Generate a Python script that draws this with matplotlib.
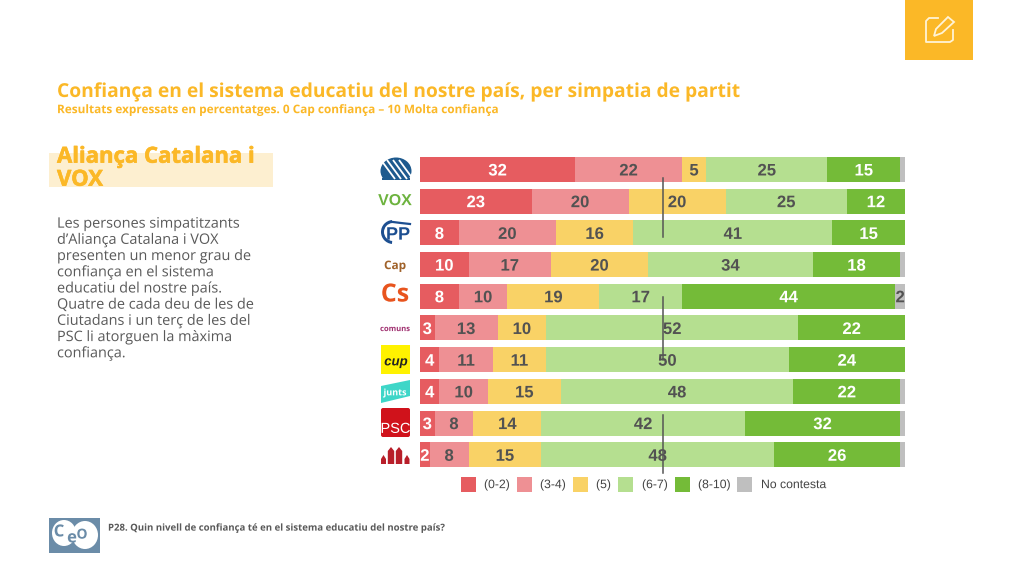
import matplotlib
matplotlib.use("Agg")
import numpy as np
import matplotlib.pyplot as plt
import matplotlib.patheffects as pe
from matplotlib.patches import Rectangle, Ellipse, FancyBboxPatch, Polygon, Wedge

plt.rcParams["text.hinting"] = "no_hinting"
# text goes through paths, otherwise Agg snaps glyphs by a pixel and digits look uneven
plt.rcParams["path.effects"] = [pe.Normal()]

# percentages per party, top to bottom
parties = ["AC", "VOX", "PP", "Cap", "Cs", "comuns", "CUP", "Junts", "PSC", "ERC"]
low = [32, 23, 8, 10, 8, 3, 4, 4, 3, 2]          # (0-2)
mid_low = [22, 20, 20, 17, 10, 13, 11, 10, 8, 8]  # (3-4)
five = [5, 20, 16, 20, 19, 10, 11, 15, 14, 15]    # (5)
mid_high = [25, 25, 41, 34, 17, 52, 50, 48, 42, 48]  # (6-7)
high = [15, 12, 15, 18, 44, 22, 24, 22, 32, 26]   # (8-10)
no_answer = [1, 0, 0, 1, 2, 0, 0, 1, 1, 1]        # No contesta
shown_na = [None, None, None, None, 2, None, None, None, None, None]

series = [low, mid_low, five, mid_high, high, no_answer]
names = ["(0-2)", "(3-4)", "(5)", "(6-7)", "(8-10)", "No contesta"]
colours = ["#E65C60", "#EE9094", "#F9D266", "#B5DF90", "#74BB38", "#BFBFBF"]
txt_cols = ["white", "#525252", "#525252", "#525252", "white", "#525252"]

AMBER = "#FBB827"
W, H = 1024, 576

body_lines = ["Les persones simpatitzants", "d’Aliança Catalana i VOX",
              "presenten un menor grau de", "confiança en el sistema",
              "educatiu del nostre país.", "Quatre de cada deu de les de",
              "Ciutadans i un terç de les del", "PSC li atorguen la màxima",
              "confiança."]

fig = plt.figure(figsize=(10.24, 5.76), dpi=100, facecolor="white")

# --- chart ---
ax = fig.add_axes([420 / W, 1 - 470.6 / H, 485 / W, 317 / H])
ypos = np.arange(len(parties))
left = np.zeros(len(parties))
for vals, name, col, tc in zip(series, names, colours, txt_cols):
    vals = np.array(vals)
    ax.barh(ypos, vals, left=left, height=0.79, color=col, linewidth=0)
    for i, v in enumerate(vals):
        if v == 0 or (name == "No contesta" and shown_na[i] is None):
            continue
        ax.text(left[i] + v / 2, i + 0.19, str(v), ha="center", va="baseline", color=tc,
                fontsize=12, fontweight="bold", family="Liberation Sans")
    left += vals
ax.set_xlim(0, 100)
ax.set_ylim(len(parties) - 0.5, -0.5)
ax.axis("off")

# --- overlay in pixel coords ---
ov = fig.add_axes([0, 0, 1, 1])
ov.set_xlim(0, W)
ov.set_ylim(H, 0)
ov.axis("off")
ov.patch.set_alpha(0)

# stray vertical rules over the bars
for y0, y1 in [(178, 237), (297, 360), (415, 473)]:
    ov.plot([662.5, 662.5], [y0, y1], color="#555555", lw=1.1)

# legend
leg_sq = [461, 517, 573, 618, 675, 737]
leg_tx = [484, 540, 596, 642, 698, 761]
for name, col, sx, tx in zip(names, colours, leg_sq, leg_tx):
    ov.add_patch(Rectangle((sx, 477), 15, 15, color=col, lw=0))
    ov.text(tx, 485, name, ha="left", va="center", fontsize=8.8, color="#444444",
            family="Liberation Sans")

# top-right icon
ov.add_patch(Rectangle((905, 0), 68, 60, color=AMBER, lw=0))
ov.plot([938, 929, 926, 926, 950, 953, 953], [18, 18, 21, 42, 42, 40, 30], color="#FFF3D6", lw=1.3)
ov.add_patch(Polygon([(934, 36), (936, 29), (948, 17), (954, 22), (942, 33)], closed=True,
                     fill=False, ec="#FFF3D6", lw=1.3))

# titles
ov.text(57, 92, "Confiança en el sistema educatiu del nostre país, per simpatia de partit",
        fontsize=13.85, fontweight="bold", color=AMBER, family="Open Sans", va="center")
ov.text(57, 110, "Resultats expressats en percentatges. 0 Cap confiança – 10 Molta confiança",
        fontsize=8.5, fontweight="bold", color=AMBER, family="Open Sans", va="center")

# side heading, a thin stroke gets it closer to the extra-bold weight
heavy = [pe.withStroke(linewidth=0.4, foreground=AMBER)]
ov.add_patch(Rectangle((49, 153), 224, 34, color="#FDEFD0", lw=0, zorder=1))
ov.text(57, 157, "Aliança Catalana i", fontsize=15.9, fontweight="bold", color=AMBER,
        family="Open Sans", va="center", zorder=2, path_effects=heavy)
ov.text(57, 180, "VOX", fontsize=15.9, fontweight="bold", color=AMBER,
        family="Open Sans", va="center", zorder=2, path_effects=heavy)

# side body text
for i, line in enumerate(body_lines):
    ov.text(57, 224 + i * 16.2, line, fontsize=10.4, color="#595959", family="Open Sans", va="center")

# footer
ov.add_patch(Rectangle((49, 518), 51, 35, color="#6B8CA8", lw=0))
ov.add_patch(Ellipse((64, 533), 24, 26, color="white", lw=0))
ov.add_patch(Ellipse((85, 535), 26, 28, color="white", lw=0))
ov.text(59, 532, "C", fontsize=12, fontweight="bold", color="#6B8CA8", family="Open Sans", ha="center", va="center")
ov.text(72, 538, "e", fontsize=12, fontweight="bold", color="#6B8CA8", family="Open Sans", ha="center", va="center")
ov.text(82, 535, "O", fontsize=10, fontweight="bold", color="#6B8CA8", family="Open Sans", ha="center", va="center")
ov.text(108, 528, "P28. Quin nivell de confiança té en el sistema educatiu del nostre país?",
        fontsize=6.9, fontweight="bold", color="#595959", family="Open Sans", va="center")

# --- party logos, rough shapes and real text ---
# Aliança Catalana dome
ov.add_patch(Ellipse((396, 171), 31, 27, color="#1E5A8E", lw=0))
for sx in [381, 387, 393, 399]:
    ov.plot([sx, sx + 14], [160, 179], color="white", lw=1.3, solid_capstyle="butt")
ov.add_patch(Rectangle((378, 180), 36, 6, color="white", lw=0))
ov.add_patch(Rectangle((382, 178), 28, 2, color="#1E5A8E", lw=0))

ov.text(395, 201, "VOX", fontsize=11.5, color="#6DB33F", fontweight="bold",
        family="Liberation Sans", ha="center", va="center")
ov.text(398, 235, "PP", fontsize=13, color="#1D4F91", fontweight="bold",
        family="Liberation Sans", ha="center", va="center")
ov.add_patch(Wedge((393, 232), 12, 95, 265, width=3, color="#1D4F91", lw=0))
ov.plot([393, 401, 410], [222, 223, 224], color="#1D4F91", lw=1.6)
ov.text(395, 266, "Cap", fontsize=8.5, color="#A0622A", fontweight="bold",
        family="Open Sans", ha="center", va="center")
ov.text(395, 295, "Cs", fontsize=18, color="#E8541E", fontweight="bold",
        family="Open Sans", ha="center", va="center")
ov.text(395, 329, "comuns", fontsize=5.5, color="#A03070", fontweight="bold",
        family="Open Sans", ha="center", va="center")
ov.add_patch(Rectangle((381, 345), 29, 29, color="#FFF200", lw=0))
ov.text(396, 362, "cup", fontsize=9.5, color="#222222", fontweight="bold", style="italic",
        family="Liberation Sans", ha="center", va="center")
ov.add_patch(Polygon([(381, 386), (410, 380), (410, 396), (381, 403)], closed=True, color="#3ED6C8", lw=0))
ov.text(395, 393, "junts", fontsize=6.5, color="white", fontweight="bold",
        family="Open Sans", ha="center", va="center")
ov.add_patch(FancyBboxPatch((381, 408), 29, 29, boxstyle="round,pad=0,rounding_size=2",
                            color="#D0121B", lw=0))
ov.text(395.5, 429, "PSC", fontsize=10.5, color="white", family="Liberation Sans",
        ha="center", va="center")
# ERC bars
for cx, top, hw in [(383.5, 455, 2.5), (391, 447, 3.2), (399, 447, 3.2), (407, 455, 2.5)]:
    ov.add_patch(Polygon([(cx - hw, 464), (cx - hw, top + 4), (cx, top), (cx + hw, top + 4), (cx + hw, 464)],
                         closed=True, color="#B81F2A", lw=0))

fig.savefig("out.png", dpi=100)
